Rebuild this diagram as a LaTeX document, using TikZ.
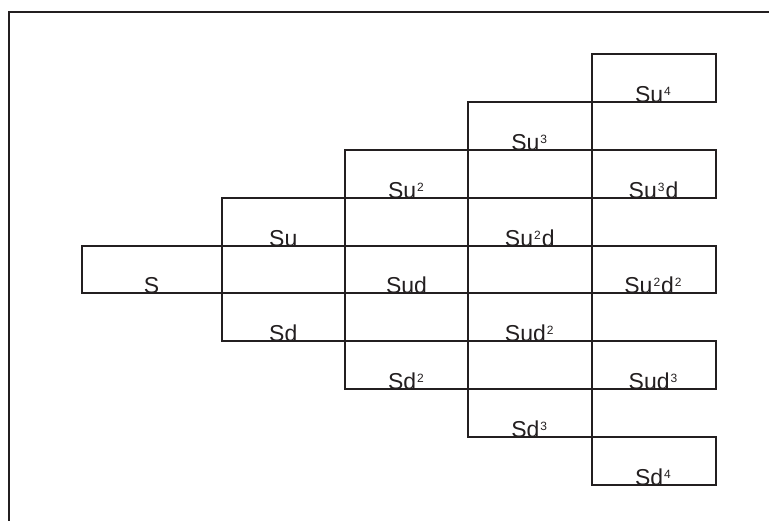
\documentclass[tikz,border=0pt]{standalone}
\usepackage{fontspec}
\setmainfont{Liberation Sans}
\definecolor{ink}{HTML}{231F20}
\newcommand\supnum[1]{\kern1pt\raisebox{7pt}{\fontsize{12}{12}\selectfont #1}\kern1pt}
\begin{document}
\begin{tikzpicture}[x=1pt,y=-1pt,
  cell/.style={draw=ink, line width=2pt, inner sep=0pt, minimum height=47.9pt},
  wide/.style={minimum width=140pt},
  col/.style={minimum width=123.5pt},
  lbl/.style={anchor=base, inner sep=0pt, text=ink, font=\fontsize{23}{23}\selectfont, yshift=0.5pt},
  frame/.style={draw=ink, line width=2.4pt}]
\useasboundingbox (0,0) rectangle (769,521);
\coordinate (ftr) at (769,12);
\coordinate (ftl) at (9,12);
\coordinate (fbl) at (9,521);
\draw[frame] (ftr) -- (ftl) -- (fbl);
% column 0
\node[cell,wide] (s) at (151.5,269.55) {};
% column 1
\node[cell,col] (su) at (283.25,221.65) {};
\node[cell,col] (sd) at (283.25,317.45) {};
% column 2
\node[cell,col,minimum width=123pt] (su2) at (406.5,173.75) {};
\node[cell,col,minimum width=123pt] (sud) at (406.5,269.55) {};
\node[cell,col,minimum width=123pt] (sd2) at (406.5,365.35) {};
% column 3
\node[cell,col] (su3) at (529.75,125.85) {};
\node[cell,col] (su2d) at (529.75,221.65) {};
\node[cell,col] (sud2) at (529.75,317.45) {};
\node[cell,col] (sd3) at (529.75,413.25) {};
% column 4
\node[cell,col,minimum width=124pt] (su4) at (653.5,77.95) {};
\node[cell,col,minimum width=124pt] (su3d) at (653.5,173.75) {};
\node[cell,col,minimum width=124pt] (su2d2) at (653.5,269.55) {};
\node[cell,col,minimum width=124pt] (sud3) at (653.5,365.35) {};
\node[cell,col,minimum width=124pt] (sd4) at (653.5,461.15) {};
% labels
\node[lbl] (s-t) at (s.south) {S};
\node[lbl] (su-t) at (su.south) {Su};
\node[lbl] (sd-t) at (sd.south) {Sd};
\node[lbl] (su2-t) at (su2.south) {Su\supnum{2}};
\node[lbl] (sud-t) at (sud.south) {Sud};
\node[lbl] (sd2-t) at (sd2.south) {Sd\supnum{2}};
\node[lbl] (su3-t) at (su3.south) {Su\supnum{3}};
\node[lbl] (su2d-t) at (su2d.south) {Su\supnum{2}d};
\node[lbl] (sud2-t) at (sud2.south) {Sud\supnum{2}};
\node[lbl] (sd3-t) at (sd3.south) {Sd\supnum{3}};
\node[lbl] (su4-t) at (su4.south) {Su\supnum{4}};
\node[lbl] (su3d-t) at (su3d.south) {Su\supnum{3}d};
\node[lbl] (su2d2-t) at (su2d2.south) {Su\supnum{2}d\supnum{2}};
\node[lbl] (sud3-t) at (sud3.south) {Sud\supnum{3}};
\node[lbl] (sd4-t) at (sd4.south) {Sd\supnum{4}};
\end{tikzpicture}
\end{document}
